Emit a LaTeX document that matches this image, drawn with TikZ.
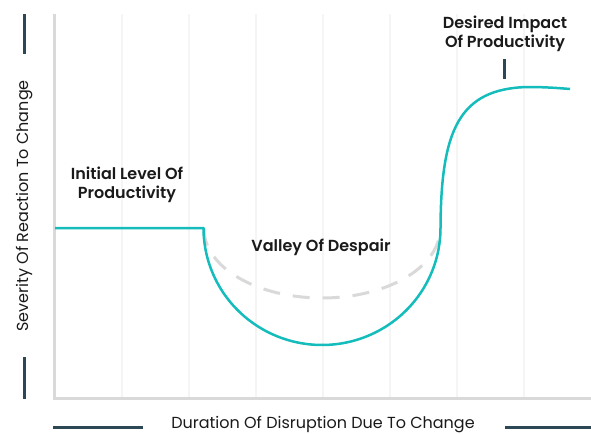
\documentclass[tikz,border=0pt]{standalone}
\usepackage{fontspec}
\setmainfont{Poppins}[BoldFont={Poppins SemiBold}]
\begin{document}
\definecolor{teal}{RGB}{20,188,187}
\definecolor{axisgray}{RGB}{217,217,217}
\definecolor{gridgray}{RGB}{245,245,245}
\definecolor{slate}{RGB}{44,72,84}
\definecolor{ink}{RGB}{26,26,26}
\begin{tikzpicture}[x=1pt,y=-1pt,
  gridline/.style={draw=gridgray,line width=2pt},
  axisline/.style={draw=axisgray,line width=3pt},
  marker/.style={draw=slate,line width=3pt},
  curve/.style={draw=teal,line width=2.5pt,line join=round},
  ghost/.style={draw=axisgray,line width=3pt,dash pattern=on 17pt off 13pt},
  callout/.style={font=\bfseries\fontsize{16}{19}\selectfont,text=ink,align=center,inner sep=0pt},
  axislabel/.style={font=\fontsize{16}{18}\selectfont,text=ink,inner sep=0pt}]
\useasboundingbox (0,0) rectangle (591,434);
% background grid
\foreach \gx in {122,189,256,323,390,457,524}
  \draw[gridline] (\gx,14) -- (\gx,398);
% axes
\draw[axisline] (54,14) -- (54,398) -- (591,398);
% axis markers
\draw[marker] (24,14) -- (24,54);
\draw[marker] (24,357) -- (24,399);
\draw[marker] (53,427) -- (143,427);
\draw[marker] (505,427) -- (591,427);
\draw[marker] (504,59) -- (504,79);
% axis labels
\node[axislabel,rotate=90] (ylab) at (25,206) {Severity Of Reaction To Change};
\node[axislabel] (xlab) at (323,425) {Duration Of Disruption Due To Change};
% expected dip
\draw[ghost] plot[domain=180:360,samples=80] ({322+118*cos(\x)},{229-69*sin(\x)});
% productivity curve
\coordinate (start) at (55,228);
\coordinate (drop) at (203,228);
\coordinate (rise) at (440,228);
\coordinate (crest) at (527,87);
\coordinate (finish) at (570,89);
\draw[curve] (start) -- (drop)
  -- plot[domain=180:360,samples=100] ({322+118.5*cos(\x)},{228-117*sin(\x)})
  .. controls (441,130) and (459,89) .. (crest)
  .. controls (545,87) and (558,88) .. (finish);
% callouts
\node[callout] (initial) at (127,185) {Initial Level Of\\Productivity};
\node[callout] (valley) at (321,247) {Valley Of Despair};
\node[callout] (desired) at (505,34) {Desired Impact\\Of Productivity};
\end{tikzpicture}
\end{document}
